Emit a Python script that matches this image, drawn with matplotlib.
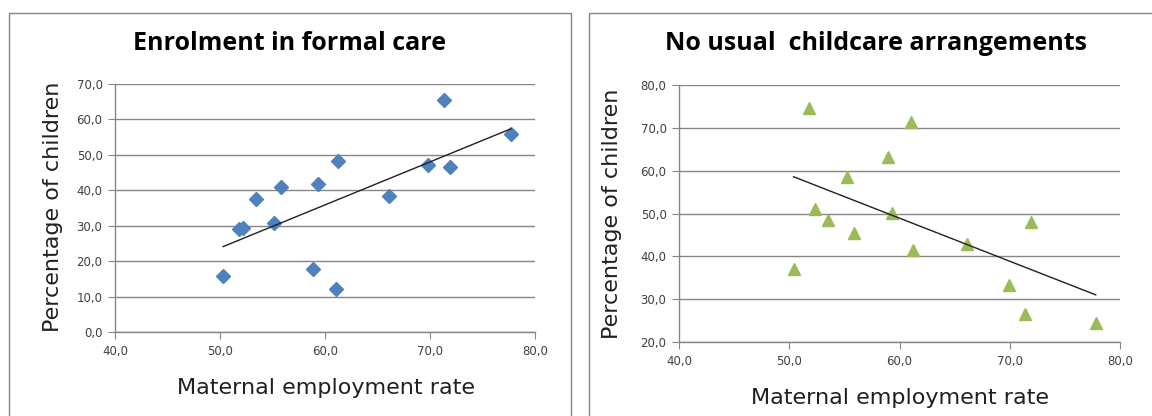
import numpy as np
import matplotlib
matplotlib.use("Agg")
import matplotlib.pyplot as plt
from matplotlib.ticker import FuncFormatter, MultipleLocator
from matplotlib.patches import Rectangle

# maternal employment rate (same countries in both panels)
emp_rate = [50.3, 51.8, 52.2, 53.4, 55.1, 55.8, 58.9, 59.3, 61.0, 61.2, 66.1, 69.8, 71.3, 71.9, 77.7]
# enrolment in formal care (%)
formal_care = [15.8, 29.0, 29.3, 37.5, 30.9, 40.8, 17.9, 41.9, 12.1, 48.4, 38.5, 47.2, 65.4, 46.6, 56.0]
# no usual childcare arrangements (%), paired by position with emp_rate_r
emp_rate_r = [50.4, 51.8, 52.3, 53.5, 55.2, 55.9, 59.0, 59.3, 61.0, 61.2, 66.1, 69.9, 71.4, 71.9, 77.8]
no_care = [37.0, 74.8, 51.2, 48.5, 58.5, 45.5, 63.3, 50.1, 71.5, 41.5, 42.9, 33.4, 26.6, 48.1, 24.5]

W, H = 1152, 416
fig = plt.figure(figsize=(W / 100, H / 100), dpi=100)

grey = "#868686"
tick_col = "#404040"
comma = FuncFormatter(lambda v, pos: f"{v:.1f}".replace(".", ","))


def px(x0, y0, x1, y1):
    # pixel box (top-left origin) -> figure fraction rect
    return [x0 / W, 1 - y1 / H, (x1 - x0) / W, (y1 - y0) / H]


# chart borders
for x0, x1 in [(9, 571), (589, 1160)]:
    fig.patches.append(Rectangle((x0 / W, -0.1), (x1 - x0) / W, 1.1 - 13 / H,
                                 transform=fig.transFigure, fill=False,
                                 edgecolor=grey, linewidth=1))


def style(ax, ylo, yhi):
    ax.set_xlim(40, 80)
    ax.set_ylim(ylo, yhi)
    ax.xaxis.set_major_locator(MultipleLocator(10))
    ax.yaxis.set_major_locator(MultipleLocator(10))
    ax.xaxis.set_major_formatter(comma)
    ax.yaxis.set_major_formatter(comma)
    ax.grid(axis="y", color=grey, linewidth=1)
    ax.set_axisbelow(True)
    for s in ["top", "right"]:
        ax.spines[s].set_visible(False)
    for s in ["left", "bottom"]:
        ax.spines[s].set_color(grey)
        ax.spines[s].set_linewidth(1)
    ax.tick_params(direction="out", length=5, color=grey, labelsize=8.5,
                   labelcolor=tick_col, pad=4)


def trend(ax, x, y):
    k, b = np.polyfit(x, y, 1)
    xs = np.array([min(x), max(x)])
    ax.plot(xs, k * xs + b, color="#202020", linewidth=1, zorder=3)


ax1 = fig.add_axes(px(115, 84, 535, 332))
style(ax1, 0, 70)
ax1.plot(emp_rate, formal_care, linestyle="none", marker="D", markersize=7,
         color="#4F81BD", zorder=2)
trend(ax1, emp_rate, formal_care)

ax2 = fig.add_axes(px(679, 85.3, 1120, 342))
style(ax2, 20, 80)
ax2.plot(emp_rate_r, no_care, linestyle="none", marker="^", markersize=9,
         color="#9BBB59", zorder=2)
trend(ax2, emp_rate_r, no_care)

tfont = dict(fontsize=18, fontweight="bold", family="Open Sans", ha="center", va="center")
fig.text(290 / W, 1 - 44 / H, "Enrolment in formal care", **tfont)
fig.text(876 / W, 1 - 44 / H, "No usual  childcare arrangements", **tfont)

lfont = dict(fontsize=16, color="#202020", ha="center", va="center")
fig.text(326 / W, 1 - 388 / H, "Maternal employment rate", **lfont)
fig.text(900 / W, 1 - 398 / H, "Maternal employment rate", **lfont)
fig.text(53 / W, 1 - 207 / H, "Percentage of children", rotation=90, **lfont)
fig.text(612 / W, 1 - 214 / H, "Percentage of children", rotation=90, **lfont)

fig.savefig("out.png", dpi=100)
